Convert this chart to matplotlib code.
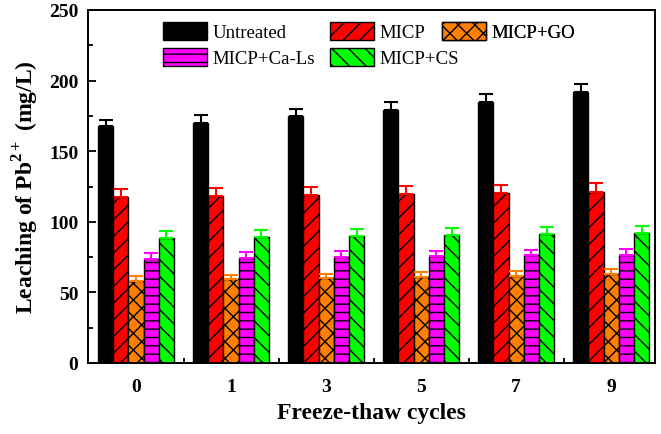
import numpy as np
import matplotlib
matplotlib.use("Agg")
import matplotlib.pyplot as plt

plt.rcParams['font.family'] = ['Liberation Serif', 'DejaVu Serif']
plt.rcParams['mathtext.fontset'] = 'custom'
plt.rcParams['mathtext.rm'] = 'Liberation Serif'
plt.rcParams['mathtext.bf'] = 'Liberation Serif:bold'
plt.rcParams['hatch.linewidth'] = 1.0

cycles = ['0', '1', '3', '5', '7', '9']
series = ['Untreated', 'MICP', 'MICP+GO', 'MICP+Ca-Ls', 'MICP+CS']

untreated = [167.6, 170.0, 175.1, 179.5, 185.0, 192.0]
micp = [117.3, 118.5, 119.2, 119.7, 120.2, 120.9]
micp_go = [58.3, 59.5, 60.4, 61.1, 61.6, 63.0]
micp_cals = [73.7, 74.4, 74.8, 75.8, 76.3, 76.7]
micp_cs = [88.5, 89.5, 89.9, 90.9, 91.4, 92.1]

err_untreated = [4.7, 5.6, 5.0, 5.2, 5.2, 5.8]
err_micp = [5.7, 5.5, 5.8, 5.9, 6.1, 6.3]
err_go = [3.5, 3.1, 2.9, 3.1, 3.3, 3.4]
err_cals = [4.2, 4.0, 4.3, 3.7, 3.7, 4.0]
err_cs = [4.7, 4.7, 4.8, 4.7, 4.7, 4.7]

values = [untreated, micp, micp_go, micp_cals, micp_cs]
errors = [err_untreated, err_micp, err_go, err_cals, err_cs]
colors = ['black', '#ff0000', '#ff8000', '#ff00ff', '#00ff00']
hatches = ['', '//', 'xx', '--', '\\\\']

W, H = 661, 435
fig = plt.figure(figsize=(W / 100, H / 100), dpi=100)
ax = fig.add_axes([88 / W, 1 - 364 / H, (655 - 88) / W, (364 - 11) / H])

x = np.arange(len(cycles))
w = 0.16
bars = []
for i in range(len(series)):
    pos = x + (i - 2) * w
    b = ax.bar(pos, values[i], w, color=colors[i], edgecolor='black', linewidth=1.0,
               hatch=hatches[i], label=series[i], zorder=2)
    bars.append(b)
    ax.errorbar(pos, values[i], yerr=[np.zeros(len(cycles)), errors[i]], fmt='none',
                ecolor=colors[i], elinewidth=1.5, capsize=5, capthick=1.5, zorder=3)

ax.set_xlim(-0.505, 5.46)
ax.set_ylim(0, 250)
ax.set_xticks(x)
ax.set_xticklabels(cycles)
ax.set_xticks(x[:-1] + 0.5, minor=True)
ax.set_yticks(np.arange(0, 251, 50))
ax.set_yticks(np.arange(25, 250, 50), minor=True)
ax.tick_params(which='both', direction='in', width=1.3, labelsize=14, pad=7)
ax.tick_params(axis='x', which='both', pad=11)
ax.tick_params(which='major', length=6)
ax.tick_params(which='minor', length=3.5)
for lab in ax.get_xticklabels() + ax.get_yticklabels():
    lab.set_fontweight('bold')
for s in ax.spines.values():
    s.set_linewidth(1.4)

ax.set_xlabel('Freeze-thaw cycles', fontsize=17, fontweight='bold', labelpad=5)
ax.set_ylabel(r'Leaching of Pb$^{\mathbf{2+}}$ (mg/L)', fontsize=17, fontweight='bold', labelpad=6)

# legend laid out in fixed columns like the original
columns = [([0, 3], 163), ([1, 4], 330), ([2], 442)]
for idx, xpix in columns:
    leg = ax.legend([bars[k] for k in idx], [series[k] for k in idx], loc='upper left',
                    bbox_to_anchor=(xpix / W, 1 - 23 / H), bbox_transform=fig.transFigure,
                    frameon=False, fontsize=13.5, handlelength=2.35, handleheight=1.1,
                    handletextpad=0.3, labelspacing=0.36, borderpad=0, borderaxespad=0)
    ax.add_artist(leg)

fig.savefig('out.png', dpi=100)
